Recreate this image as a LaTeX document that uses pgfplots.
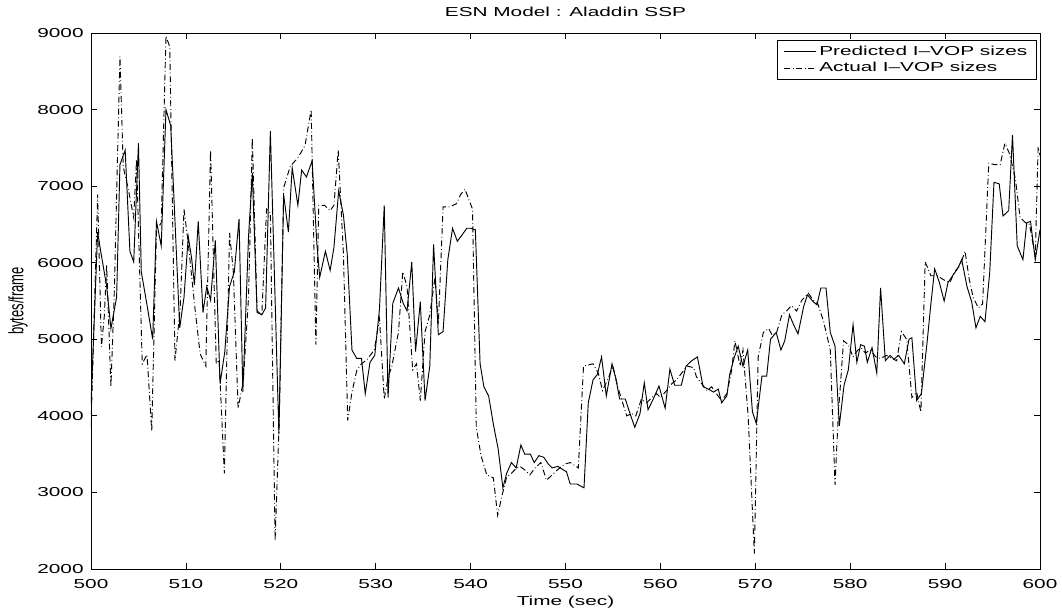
\documentclass[border=0pt]{standalone}
\usepackage{fontspec}
\setmainfont[FakeStretch=1.6]{Liberation Sans}
\newfontfamily\plainfont{Liberation Sans}
\usepackage{pgfplots}
\usepackage{pgfplotstable}
\pgfplotsset{compat=1.18}

\pgfplotstableread{
t v
500.0 4150
500.7 6400
501.05 6130
501.65 5690
502.1 5140
502.7 5550
503.05 7280
503.6 7470
504.1 6150
504.5 6010
505.0 7560
505.3 5880
505.9 5450
506.5 5000
506.9 6540
507.4 6220
507.9 8000
508.4 7790
509.35 5150
509.8 5550
510.25 6340
510.6 6060
510.9 5710
511.3 6540
511.8 5350
512.2 5690
512.6 5510
513.1 6290
513.6 4420
514.1 4840
514.6 5690
515.1 5880
515.6 6570
516.0 4310
516.6 6340
517.0 7170
517.5 5350
518.0 5320
518.4 5410
518.9 7720
519.8 3760
520.3 6890
520.8 6400
521.2 7240
521.8 6750
522.2 7210
522.7 7120
523.3 7330
523.8 6250
524.1 5810
524.7 6150
525.2 5900
525.6 6200
526.1 6940
526.6 6620
527.0 6110
527.5 4860
528.0 4750
528.5 4750
528.9 4290
529.4 4700
529.9 4790
530.4 5400
530.9 6750
531.3 4240
531.8 5470
532.4 5670
532.9 5470
533.3 5370
533.8 6010
534.2 4840
534.7 5490
535.2 4200
535.7 4650
536.1 6240
536.6 5060
537.1 5100
537.6 6040
538.1 6450
538.6 6280
539.2 6380
539.6 6450
540.0 6450
540.5 6430
541.0 4680
541.4 4380
541.9 4260
542.4 3890
542.9 3570
543.4 3060
543.8 3250
544.3 3390
544.8 3320
545.3 3620
545.7 3500
546.3 3500
546.7 3390
547.2 3480
547.7 3460
548.2 3370
548.6 3320
549.2 3340
549.7 3300
550.1 3270
550.5 3110
551.2 3110
551.95 3060
552.4 4170
552.9 4470
553.35 4540
553.8 4770
554.3 4260
554.9 4680
555.3 4490
555.7 4220
556.3 4220
556.8 4030
557.3 3850
557.85 4030
558.3 4430
558.7 4080
559.25 4220
559.85 4390
560.5 4100
561.0 4610
561.5 4400
562.2 4400
562.7 4650
563.3 4720
563.9 4770
564.5 4380
565.05 4350
565.6 4310
566.1 4350
566.45 4170
567.0 4260
567.3 4540
567.8 4770
568.2 4910
568.7 4650
569.2 4860
569.7 4050
570.1 3900
570.7 4520
571.2 4520
571.6 5000
572.2 5090
572.7 4860
573.1 4980
573.6 5320
574.0 5200
574.5 5070
575.1 5430
575.5 5580
576.1 5490
576.5 5450
576.9 5670
577.45 5670
577.9 5090
578.4 4910
578.85 3870
579.35 4400
579.8 4600
580.3 5190
580.7 4700
581.1 4930
581.5 4910
581.8 4700
582.3 4890
582.8 4560
583.2 5670
583.7 4720
584.2 4790
584.6 4740
585.1 4790
585.7 4680
586.2 5000
586.5 5020
587.0 4200
587.5 4290
588.1 4960
588.5 5460
588.9 5920
589.4 5740
589.9 5500
590.3 5740
590.9 5850
591.3 5920
591.75 6040
592.3 5690
592.8 5490
593.25 5150
593.7 5300
594.2 5230
594.7 5870
595.15 7050
595.7 7030
596.1 6610
596.7 6680
597.1 7670
597.6 6220
598.2 6040
598.6 6520
599.0 6540
599.5 6040
600.0 6430
}\predicted

\pgfplotstableread{
t v
500.0 3850
500.7 6890
501.1 4900
501.4 5300
501.65 5970
502.1 4380
502.45 5600
503.05 8690
503.4 7250
503.9 6980
504.5 6590
504.8 7350
505.4 4680
505.9 4800
506.4 3800
506.9 6430
507.4 6520
507.9 8960
508.3 8820
508.85 4720
509.4 5410
509.8 6700
510.25 6250
510.95 5410
511.5 4810
512.1 4650
512.6 7470
512.9 6060
513.2 4680
513.5 4730
514.05 3250
514.6 6390
515.0 5880
515.5 4100
516.05 4450
516.6 5550
517.0 7630
517.5 5370
518.0 5320
518.5 6700
518.9 6650
519.4 2370
519.85 4000
520.3 6980
521.0 7260
521.8 7370
522.55 7530
523.2 8000
523.7 4930
524.0 6750
524.6 6750
525.2 6680
525.6 6750
526.05 7470
526.6 6110
527.05 3940
527.5 4310
528.0 4590
528.5 4680
529.05 4730
529.85 4860
530.4 5270
530.9 4220
531.3 4500
531.7 4650
532.4 5090
532.85 5880
533.3 5690
533.9 4600
534.3 4680
534.7 4200
535.2 5100
535.7 5320
536.25 5810
536.6 5190
537.1 6730
537.8 6730
538.5 6770
538.95 6890
539.4 6960
539.9 6800
540.2 6700
540.6 3850
541.1 3480
541.7 3230
542.4 3190
542.85 2700
543.35 2980
543.8 3200
544.3 3250
544.85 3320
545.2 3340
545.65 3300
546.25 3230
546.8 3320
547.4 3390
548.0 3160
548.6 3230
549.2 3300
549.9 3370
550.5 3390
551.35 3320
551.9 4650
552.9 4680
553.45 4560
553.9 4330
554.5 4490
555.0 4650
555.5 4380
555.9 4220
556.45 4000
557.0 4030
557.4 4000
558.0 4220
558.55 4170
559.1 4240
559.6 4290
560.0 4240
560.65 4330
561.2 4420
561.7 4470
562.25 4560
562.8 4650
563.5 4630
563.8 4510
564.35 4420
564.9 4330
565.4 4380
565.9 4290
566.45 4200
567.0 4290
567.5 4590
567.85 4980
568.4 4650
568.7 4860
569.25 3990
569.9 2200
570.3 4770
570.85 5090
571.4 5140
571.8 5050
572.25 5090
572.8 5320
573.3 5370
573.8 5440
574.35 5370
574.9 5510
575.6 5600
576.1 5510
576.6 5460
577.2 5230
577.9 4860
578.4 3100
578.75 4030
579.3 4980
579.8 4930
580.3 4770
580.8 4860
581.2 4880
581.6 4820
582.1 4860
582.7 4770
583.2 4750
583.8 4790
584.4 4750
584.9 4720
585.4 5100
585.95 5000
586.5 4240
587.0 4310
587.45 4050
587.9 6010
588.5 5830
589.2 5830
589.8 5780
590.5 5740
591.0 5880
591.6 5970
592.1 6150
592.55 5780
592.95 5550
593.5 5410
593.95 5460
594.6 7300
595.25 7280
595.8 7280
596.3 7560
596.8 7420
597.4 7100
597.9 6590
598.5 6520
598.9 6500
599.5 6080
599.8 7510
600.0 7400
}\actual

\begin{document}
\begin{tikzpicture}
\begin{axis}[
  scale only axis,
  width=711.75pt, height=402pt,
  xmin=500, xmax=600, ymin=2000, ymax=9000,
  xtick={500,510,...,600},
  ytick={2000,3000,...,9000},
  tick align=inside,
  major tick length=4.5pt,
  axis line style={line width=0.6pt},
  every tick/.style={black, line width=0.6pt},
  /pgf/number format/assume math mode=true,
  /pgf/number format/1000 sep={},
  tick label style={font=\fontsize{9.75}{11}\selectfont},
  xticklabel style={anchor=base, yshift=-14.7pt},
  yticklabel style={anchor=east, xshift=-2pt},
  title={ESN Model : Aladdin SSP},
  title style={font=\fontsize{9.75}{11}\selectfont, at={(axis description cs:0.5,1)}, anchor=base, yshift=6.3pt},
  xlabel={Time (sec)},
  xlabel style={font=\fontsize{9.75}{11}\selectfont, at={(axis description cs:0.5,0)}, anchor=base, yshift=-27.5pt},
  ylabel={bytes/frame},
  ylabel style={font=\plainfont\fontsize{9.75}{11}\selectfont, at={([xshift=-54.75pt]axis description cs:0,0.5)}, anchor=center, rotate=0, yscale=1.6},
  legend style={at={([xshift=-2.25pt,yshift=-5.25pt]axis description cs:1,1)}, anchor=north east,
    draw=black, line width=0.5pt, font=\fontsize{9.75}{11}\selectfont,
    inner xsep=5pt, inner ysep=2pt, row sep=0pt},
  legend cell align=left,
  legend image code/.code={\draw[#1] (0pt,0pt) -- (24pt,0pt);},
]
\addplot[black, line width=0.7pt] table[x=t, y=v] {\predicted};
\addlegendentry{Predicted I–VOP sizes}
\addplot[black, line width=0.7pt, dash pattern=on 4.5pt off 2pt on 0.6pt off 2pt] table[x=t, y=v] {\actual};
\addlegendentry{Actual I–VOP sizes}
\end{axis}
\pgfresetboundingbox
\path[use as bounding box] (-68.25pt,-31.5pt) rectangle (728.25pt,426.75pt);
\end{tikzpicture}
\end{document}
